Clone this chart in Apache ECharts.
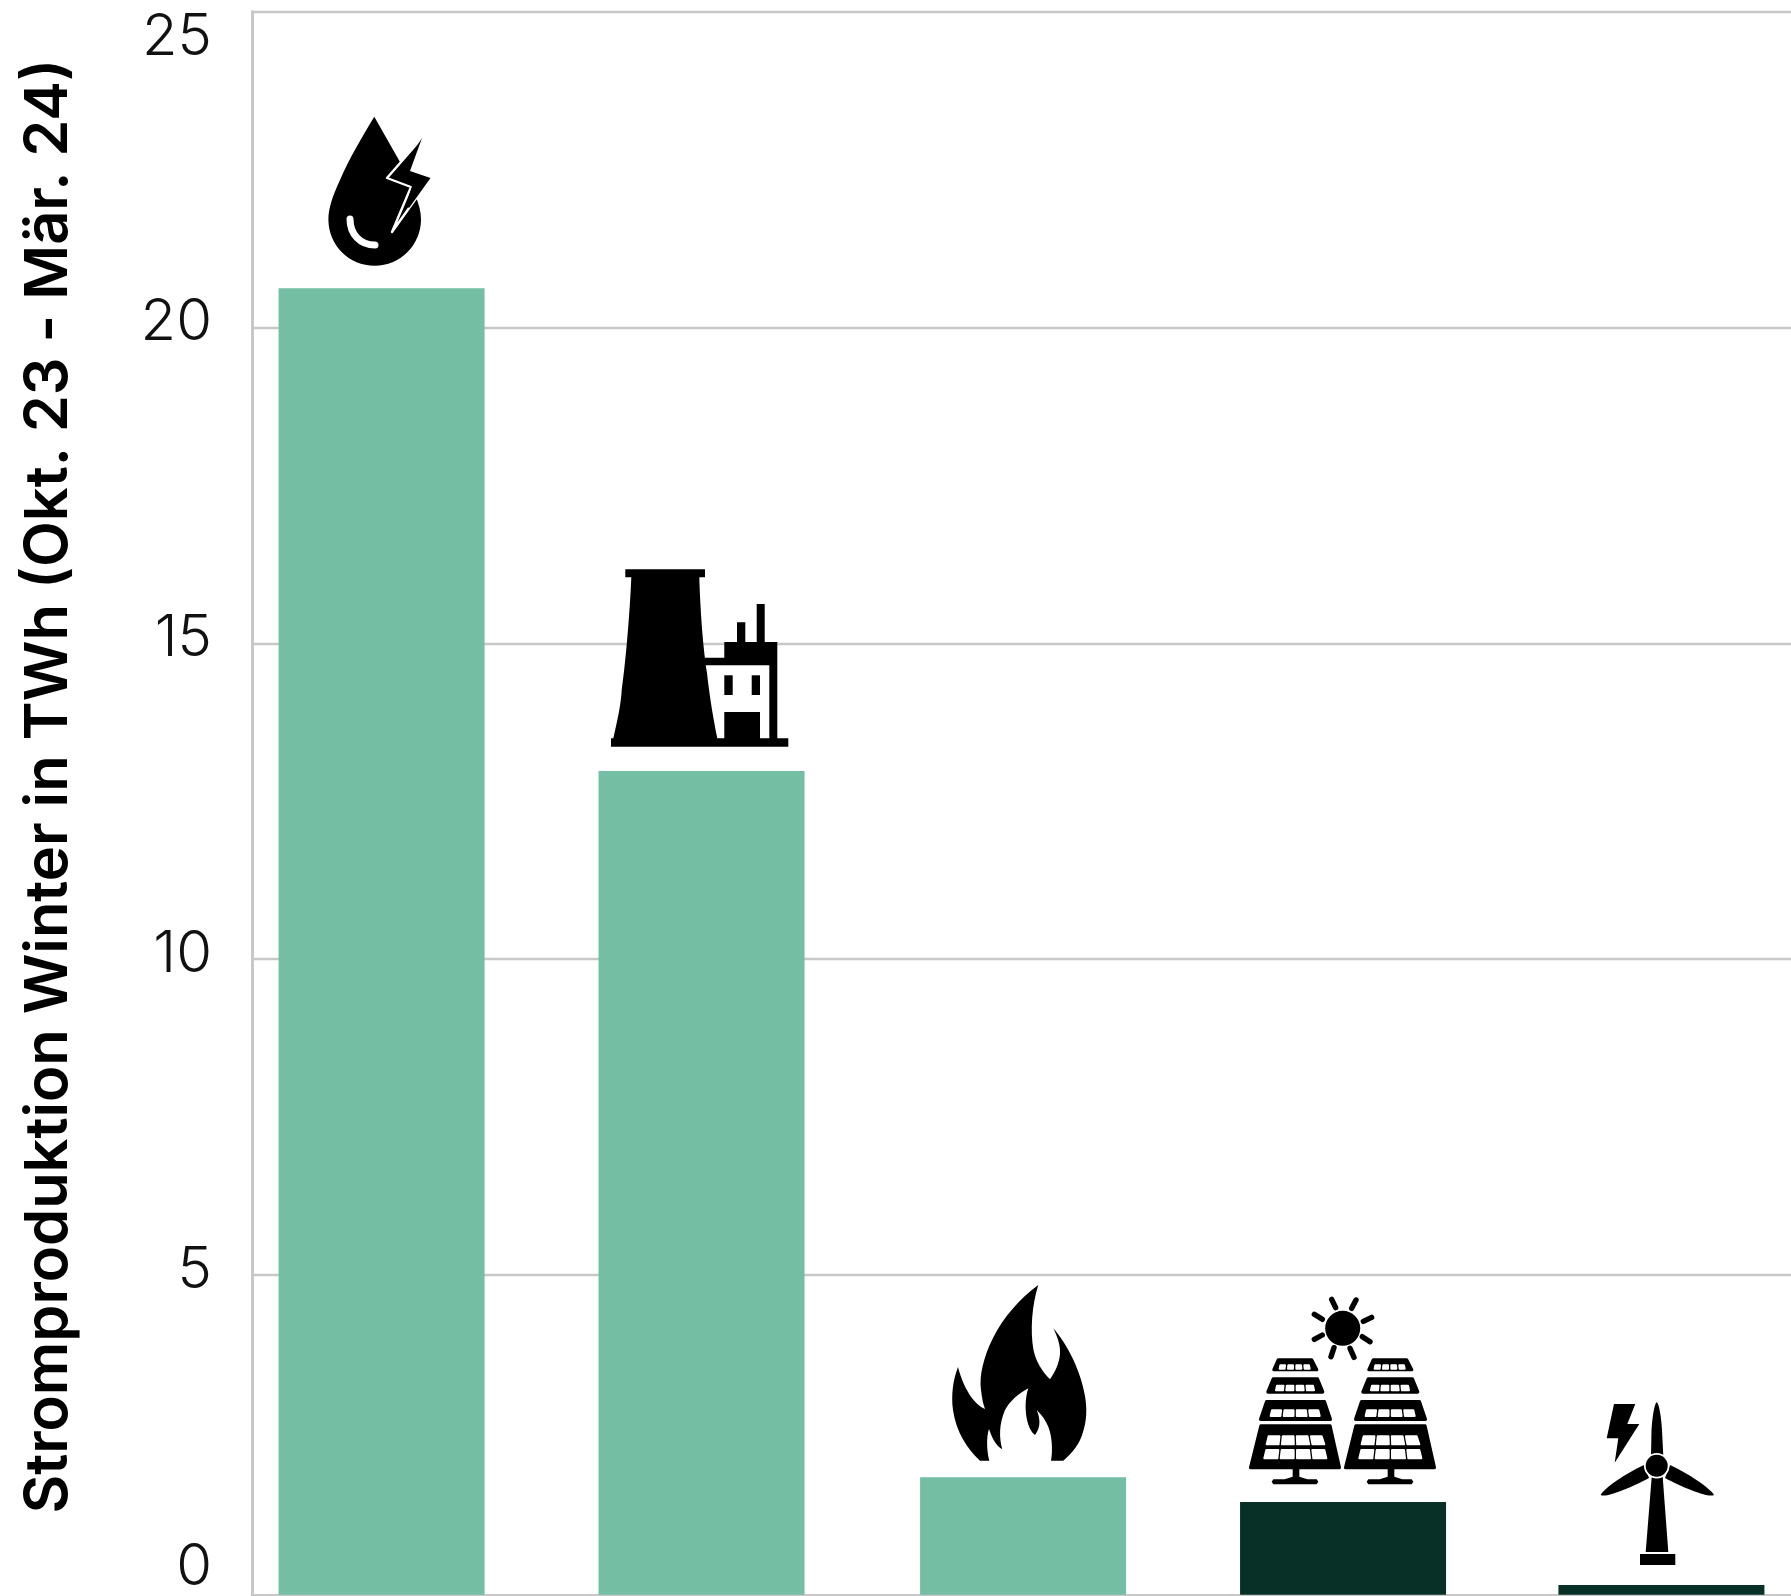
<!DOCTYPE html>
<html><head><meta charset="utf-8">
<style>html,body{margin:0;padding:0;background:#fff}#c{width:1791px;height:1596px}</style>
<script src="https://cdn.jsdelivr.net/npm/echarts@6/dist/echarts.min.js"></script>
</head><body><div id="c"></div>
<script>
const categories = ['Wasserkraft', 'Kernkraft', 'Gas', 'Solar', 'Wind'];
const barX = [0, 1, 2.005, 3.005, 4];
const values = [20.62, 12.98, 1.80, 1.41, 0.095];
const barColors = ['#74BEA4', '#74BEA4', '#74BEA4', '#083026', '#083026'];
const yTicks = [0, 5, 10, 15, 20, 25];
const yTitle = 'Stromproduktion Winter in TWh (Okt. 23 - Mär. 24)';

const BLACK = '#000', WHITE = '#fff';
const W = 240, H = 240;               // every icon is drawn in a box sitting on its bar
const solid = d => ({d, fill: BLACK});
const knock = d => ({d, fill: WHITE});
const line = (d, stroke, w) => ({d, fill: 'transparent', stroke, w});

function disc(x, y, r) { return `M${x - r} ${y}A${r} ${r} 0 1 1 ${x + r} ${y}A${r} ${r} 0 1 1 ${x - r} ${y}Z`; }

/* solar panel helper: rows of a panel and their cells */
function panel(dx) {
  const P = (x, y) => `${1220 + (x + dx) / 3} ${1280 + y / 3}`;
  const q = (a, b, c, d, yt, yb) => `M${P(a, yt)}L${P(b, yt)}L${P(c, yb)}L${P(d, yb)}Z`;
  const out = [];
  const rows = [[175,275,290,162,240,269],[160,292,308,144,297,336],[140,313,331,122,365,418],[123,330,358,92,438,563]];
  rows.forEach(r => out.push({d: q(r[0], r[1], r[2], r[3], r[4], r[5]), fill: BLACK, stroke: BLACK, w: 3.4}));
  out.push(solid(`M${P(218,565)}L${P(238,565)}L${P(238,590)}L${P(262,598)}L${P(290,598)}L${P(295,605)}L${P(290,613)}L${P(160,613)}L${P(155,605)}L${P(160,598)}L${P(194,598)}L${P(218,590)}Z`));
  const cellRows = [[176,272,174,274,253,269],[166,284,163,287,314,334],[151,300,147,304,388,411],[141,310,135,318,466,496],[134,318,128,324,507,538]];
  cellRows.forEach(c => {
    for (let k = 0; k < 4; k++) {
      const g = 5;
      const t0 = c[0] + (c[1] - c[0]) * k / 4 + g, t1 = c[0] + (c[1] - c[0]) * (k + 1) / 4 - g;
      const b0 = c[2] + (c[3] - c[2]) * k / 4 + g, b1 = c[2] + (c[3] - c[2]) * (k + 1) / 4 - g;
      out.push({d: q(t0, t1, b1, b0, c[4] + 3, c[5] - 3), fill: WHITE, stroke: WHITE, w: 2});
    }
  });
  return out;
}

const sunRays = [[335,58,347,83],[408,60,395,85],[455,112,430,124],[450,185,427,170],[402,232,390,205],[333,230,342,203],[283,178,307,165],[283,103,307,118]];

const iconLayers = [
  [ // hydro drop with bolt
    solid('M374.3 116.7L400 162L415 195C419 204 421 212 421 219.4C421 245 400 265.7 374.7 265.7C349 265.7 328.4 245 328.4 219.4C328.4 208 333 195 340 180C350 157 362 137 374.3 116.7Z'),
    {d: 'M422 138L410 171L430.5 178L392 232L411 187L387 178Z', fill: BLACK, stroke: WHITE, w: 2.4},
    knock('M422.5 136L411.5 170L432 178L430 181L421 176L410 172Z'),
    solid('M422 138L410 171L430.5 178L409 208L406 205L412 186L395 179Z'),
    line('M350 219C350 234 360 245 375 245', WHITE, 7)
  ],
  [ // nuclear plant and building
    solid('M625.3 569.3L705 569.3L705 577.3L699.3 577.3C700 600 702 640 707 673C710 700 714 722 717.3 738.3L788.3 738.3L788.3 746.7L611 746.7L611 738.3L613.3 738.3C617 722 621 705 621.7 690C626 660 630 610 631.3 577.3L625.3 577.3Z'),
    solid('M704 657.7L724.3 657.7L724.3 642L737 642L737 622.3L745.3 622.3L745.3 642L756.7 642L756.7 604L764.7 604L764.7 642L777.3 642L777.3 740L769.3 740L769.3 665.3L704 665.3Z'),
    solid('M724.3 675.3H732.7V695H724.3Z'),
    solid('M751.7 675.3H760V695H751.7Z'),
    solid('M724.3 712H760V740H724.3Z')
  ],
  [ // gas flame
    solid('M1038.3 1285C1020 1298 1003 1318 993 1338C984 1356 979 1375 981 1390C982 1398 983 1404 985 1409C975 1405 964 1390 958 1367C953 1380 951 1395 953 1410C956 1432 968 1450 980 1460.7L989.3 1460.7C987 1452 986 1438 989 1429C992 1438 996 1446 1002.3 1449.3C999 1438 999 1424 1005 1410C1010 1401 1018 1394 1028.3 1388.3C1025 1398 1025 1410 1027 1420C1029 1428 1032 1433 1035 1435C1038 1431 1040 1426 1039.3 1420C1039 1416 1038 1413 1036.7 1410C1042 1415 1046 1421 1048.3 1426.7C1052 1436 1053 1450 1051 1460.7L1063.3 1460.7C1072 1453 1080 1444 1083 1432C1087 1420 1087 1408 1085 1396C1081 1372 1068 1345 1053.3 1328.3C1058 1338 1060.5 1346 1060 1354C1059 1364 1055 1372 1050 1379.3C1042 1371 1036 1362 1033.5 1350C1030 1330 1032 1305 1038.3 1285Z')
  ],
  [ // solar panels under a sun
    solid(disc(1342.7, 1328.3, 17.5)),
    ...sunRays.map(r => ({d: `M${1220 + r[0] / 3} ${1280 + r[1] / 3}L${1220 + r[2] / 3} ${1280 + r[3] / 3}`, fill: 'transparent', stroke: BLACK, w: 5.4, cap: 'round'})),
    ...panel(0),
    ...panel(285)
  ],
  [ // wind turbine and bolt
    solid('M1614 1404H1635.3L1627.3 1424H1639.3L1614.7 1462.7L1618.3 1438.3H1606.7Z'),
    solid('M1656.7 1402C1659 1404 1661 1415 1662 1430L1663.3 1456H1651L1651.5 1430C1652.5 1415 1654.5 1404 1656.7 1402Z'),
    solid('M1600.7 1495C1604 1488 1625 1474 1644 1465L1649 1478C1630 1488 1606 1498 1600.7 1495Z'),
    solid('M1714 1495C1710 1488 1689 1474 1670 1465L1665 1478C1684 1488 1708 1498 1714 1495Z'),
    solid('M1651.7 1477H1662.7L1668.3 1552H1645.7Z'),
    solid('M1640 1554H1675.3V1565H1640Z'),
    knock(disc(1656.7, 1465.7, 12.8)),
    solid(disc(1656.7, 1465.7, 11))
  ]
];

const xMin = -0.405, xMax = 4.405;
const gridLeft = 252, gridTop = 11.5, gridW = 1539, unit = 63.18, yMin = -0.06, yMax = 25;
const pxCenter = x => gridLeft + (x - xMin) * gridW / (xMax - xMin);
const pxTop = v => gridTop + (yMax - v) * unit;

const iconData = [];
iconLayers.forEach((layers, i) => {
  const x0 = pxCenter(barX[i]) - W / 2, y0 = pxTop(values[i]) - H;
  const frame = `M${x0} ${y0}L${x0} ${y0}M${x0 + W} ${y0 + H}L${x0 + W} ${y0 + H}`;
  layers.forEach(l => iconData.push({
    value: [barX[i], values[i]],
    symbol: 'path://' + frame + l.d,
    symbolSize: [W, H],
    symbolOffset: [0, -H / 2],
    itemStyle: {color: l.fill, borderColor: l.stroke || 'transparent', borderWidth: l.w || 0, borderJoin: 'round', borderCap: l.cap || 'round', opacity: 1}
  }));
});

const labelPad = {top: [52, 0, 0, 0], mid: [0, 0, 10, 0], bot: [0, 0, 47, 0]};
const labelBase = {fontFamily: 'Inter', fontWeight: 300, fontSize: 58, color: '#111'};

const chart = echarts.init(document.getElementById('c'), null, {renderer: 'canvas', width: 1791, height: 1596});
chart.setOption({
  animation: false,
  backgroundColor: '#fff',
  grid: {left: gridLeft, top: gridTop, width: gridW, height: (yMax - yMin) * unit, outerBoundsMode: 'none', containLabel: false},
  xAxis: {
    type: 'value', min: xMin, max: xMax, splitLine: {show: false},
    axisLine: {show: true, onZero: false, lineStyle: {color: '#c8c8c8', width: 3}},
    axisTick: {show: false}, axisLabel: {show: false}
  },
  yAxis: {
    type: 'value', min: yMin, max: yMax, startValue: yMin,
    name: yTitle, nameLocation: 'middle', nameGap: 173, nameRotate: 90,
    nameTextStyle: {fontFamily: 'Inter', fontWeight: 600, fontSize: 59.5, color: '#000', padding: [0, 0, 0, 34]},
    axisLine: {show: true, onZero: false, lineStyle: {color: '#c8c8c8', width: 3}},
    axisTick: {show: false, customValues: yTicks.filter(v => v > 0)},
    splitLine: {show: true, customValues: yTicks.filter(v => v > 0), lineStyle: {color: '#c8c8c8', width: 2.4}},
    axisLabel: {
      customValues: yTicks, margin: 40, showMinLabel: true, showMaxLabel: true,
      formatter: v => `{${v === 25 ? 'top' : v === 0 ? 'bot' : 'mid'}|${v}}`,
      rich: {
        top: {...labelBase, padding: labelPad.top},
        mid: {...labelBase, padding: labelPad.mid},
        bot: {...labelBase, padding: labelPad.bot}
      }
    }
  },
  series: [
    {
      type: 'bar', name: 'Stromproduktion', barWidth: 206, silent: true, z: 2,
      data: values.map((v, i) => ({name: categories[i], value: [barX[i], v], itemStyle: {color: barColors[i]}}))
    },
    {type: 'scatter', silent: true, clip: false, z: 3, data: iconData}
  ]
});
</script></body></html>
